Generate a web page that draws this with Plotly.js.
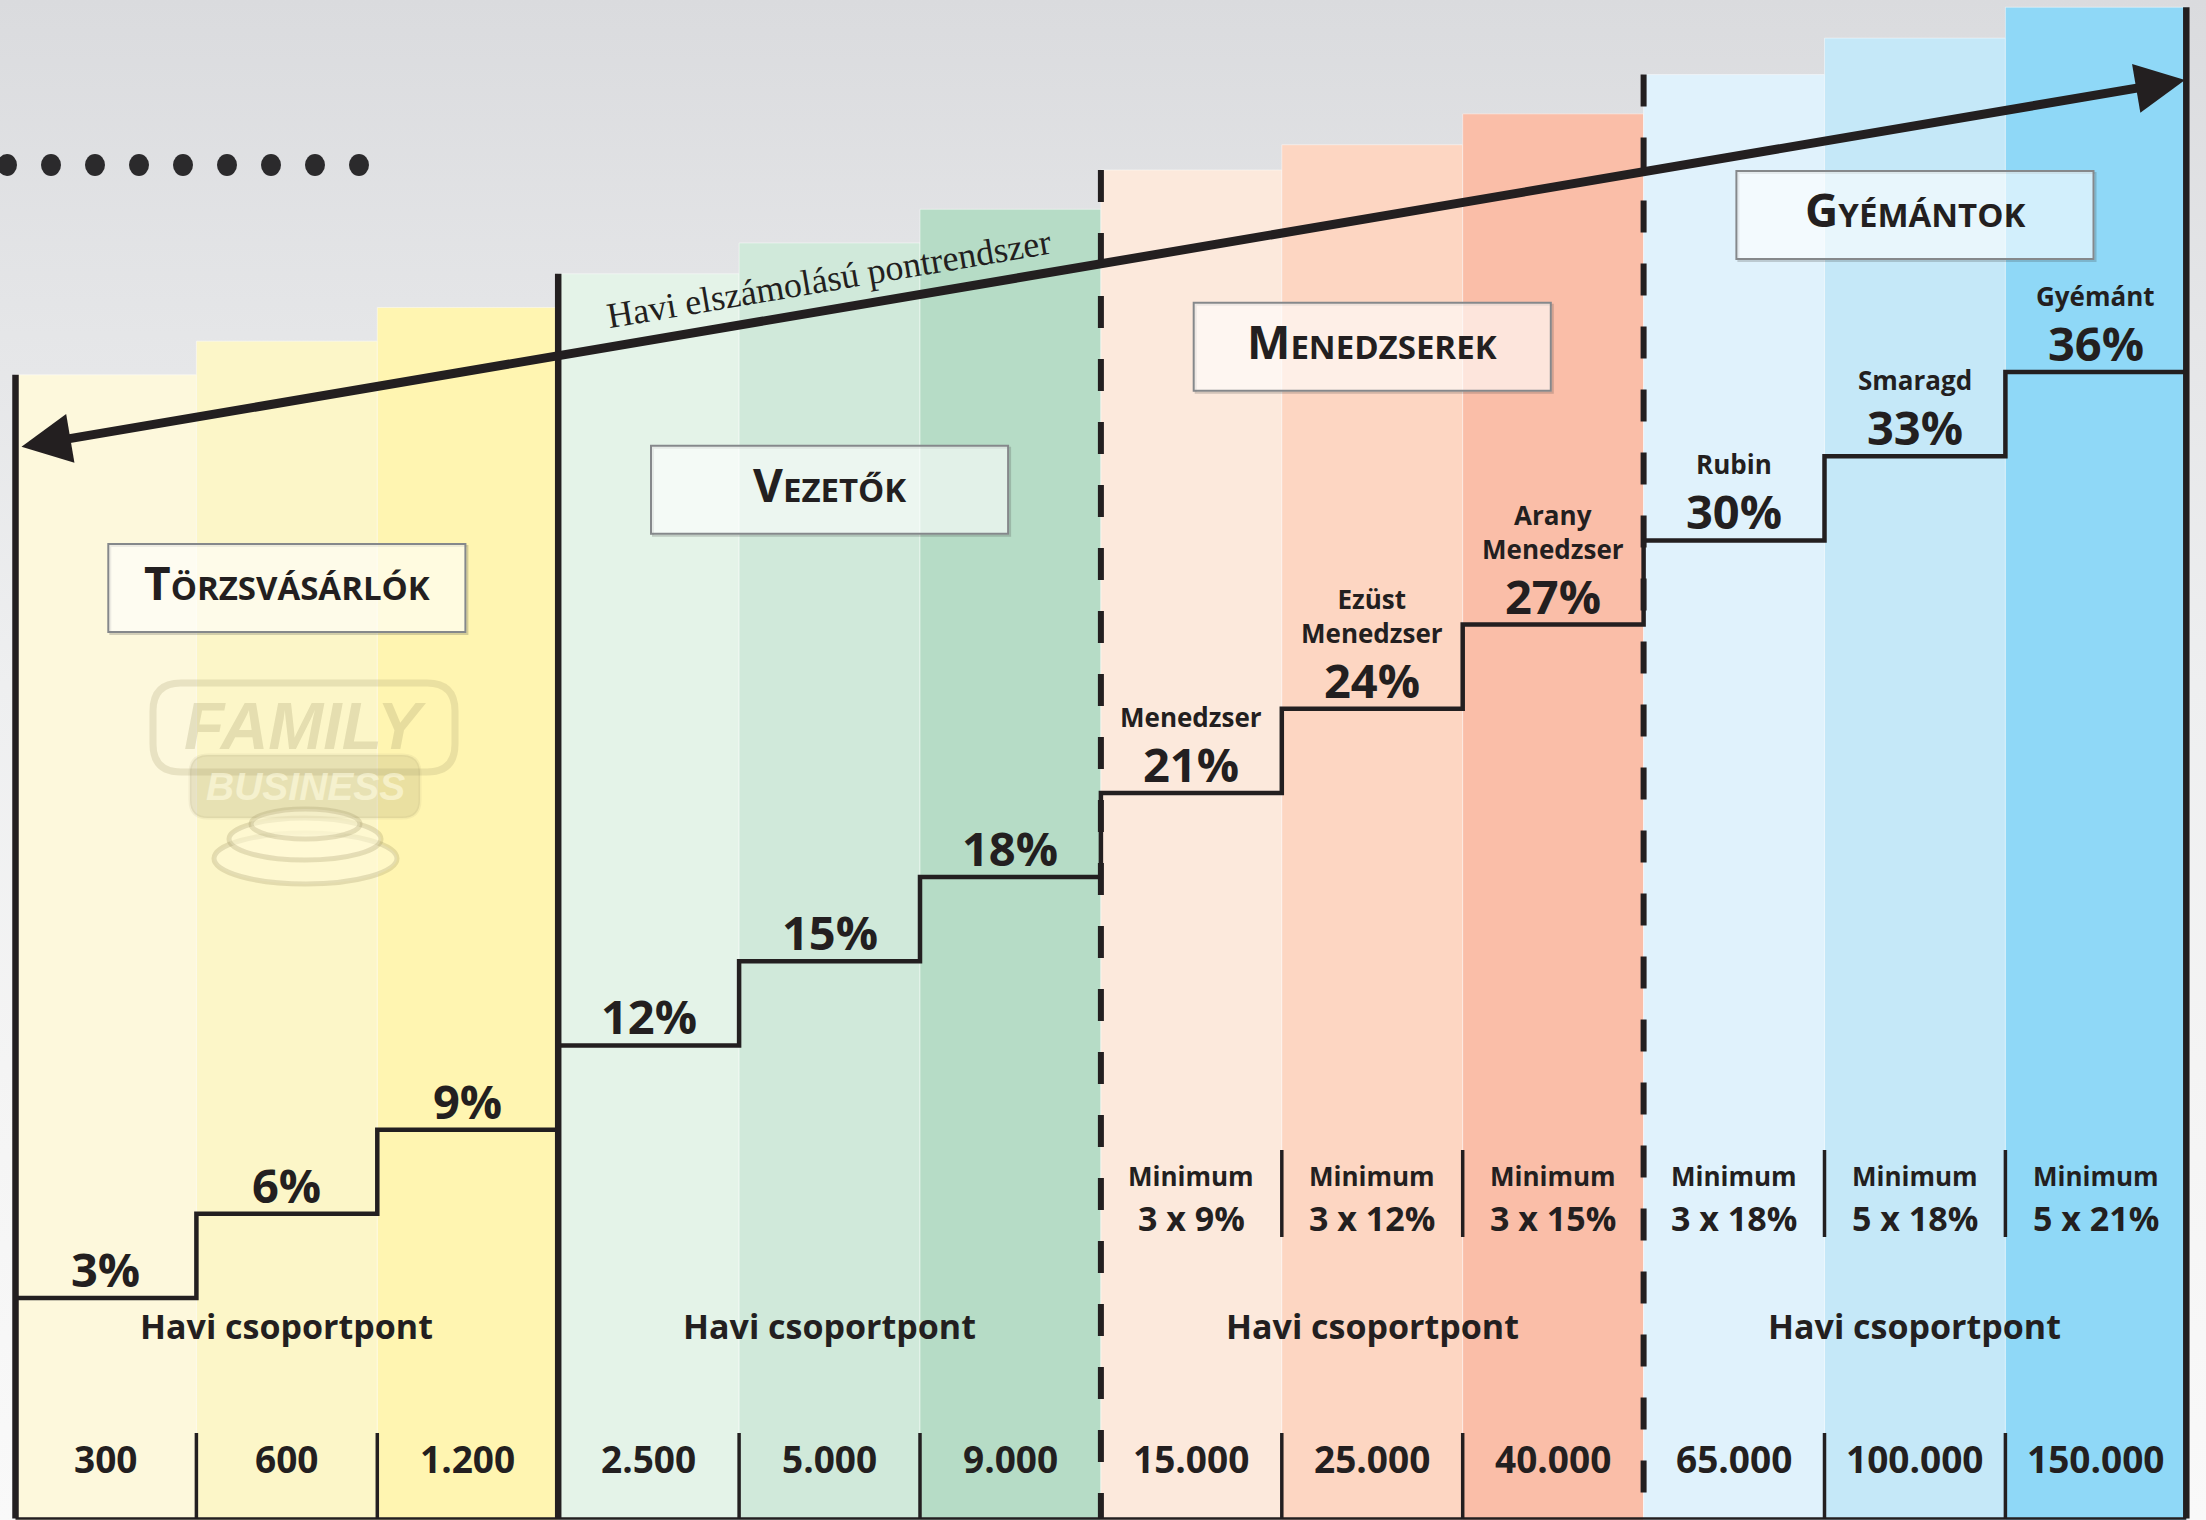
<!DOCTYPE html>
<html><head><meta charset="utf-8">
<script src="https://cdn.plot.ly/plotly-3.0.1.min.js"></script>
<style>
html,body{margin:0;padding:0;width:2206px;height:1520px;overflow:hidden;
background:linear-gradient(to bottom,#dadbde 0%,#e5e6e8 22%,#eeeff0 45%,#f4f4f4 70%,#f9f9f9 100%);}
#chart{width:2206px;height:1520px;}
</style></head><body><div id="chart"></div>
<script>
// ---------------- data ----------------
const levelPercent = [3, 6, 9, 12, 15, 18, 21, 24, 27, 30, 33, 36];
const levelNames = ['', '', '', '', '', '', 'Menedzser', 'Ezüst<br>Menedzser', 'Arany<br>Menedzser', 'Rubin', 'Smaragd', 'Gyémánt'];
const groupPoints = [300, 600, 1200, 2500, 5000, 9000, 15000, 25000, 40000, 65000, 100000, 150000];
const minimumCount = [null, null, null, null, null, null, 3, 3, 3, 3, 5, 5];
const minimumPercent = [null, null, null, null, null, null, 9, 12, 15, 18, 18, 21];
const columnTop = [35.9, 37.1, 38.3, 39.5, 40.6, 41.8, 43.2, 44.1, 45.2, 46.6, 47.9, 49.0];
const groupNames = ['Törzsvásárlók', 'Vezetők', 'Menedzserek', 'Gyémántok'];
const groupTitleLevel = [28.3, 31.8, 36.9, 41.6];
const groupSubtitle = 'Havi csoportpont';
const arrowLabel = 'Havi elszámolású pontrendszer';
const columnColors = ['#fdf8dc', '#fcf6c8', '#fff5b1', '#e4f3e8', '#d0e9da', '#b6dcc6',
                      '#fce9dc', '#fdd6c2', '#fabea8', '#e0f2fc', '#c5e8f8', '#8fd8f7'];

// ---------------- geometry helpers ----------------
const W = 2206, H = 1520;
const Y_MIN = -4.912, Y_MAX = 49.258;
const X_MIN = -0.0857, X_MAX = 12.1089;
const INK = '#231f20';
const FONT = 'Open Sans, Noto Sans, DejaVu Sans, sans-serif';
const PX = v => v / W;                 // pixel -> paper x
const PY = v => 1 - v / H;             // pixel -> paper y
const YD = v => Y_MAX - (v / H) * (Y_MAX - Y_MIN);   // pixel row -> y data
const XD = v => X_MIN + (v / W) * (X_MAX - X_MIN);   // pixel col -> x data
const fmt = n => String(n).replace(/\B(?=(\d{3})+(?!\d))/g, '.');
const nCols = levelPercent.length;
const colIdx = levelPercent.map((_, i) => i);

function rr(x0, y0, x1, y1, r) {
  return `M${PX(x0 + r)},${PY(y0)} L${PX(x1 - r)},${PY(y0)} Q${PX(x1)},${PY(y0)} ${PX(x1)},${PY(y0 + r)} ` +
         `L${PX(x1)},${PY(y1 - r)} Q${PX(x1)},${PY(y1)} ${PX(x1 - r)},${PY(y1)} L${PX(x0 + r)},${PY(y1)} ` +
         `Q${PX(x0)},${PY(y1)} ${PX(x0)},${PY(y1 - r)} L${PX(x0)},${PY(y0 + r)} Q${PX(x0)},${PY(y0)} ${PX(x0 + r)},${PY(y0)} Z`;
}

// ---------------- traces ----------------
const bars = {
  type: 'bar',
  x: colIdx.map(i => i + 0.5),
  y: columnTop.map(t => t - Y_MIN),
  base: Y_MIN,
  width: 1,
  marker: { color: columnColors, line: { width: 1, color: 'rgba(255,255,255,0.45)' } },
  hoverinfo: 'skip'
};
const steps = {
  type: 'scatter', mode: 'lines',
  x: colIdx.concat([nCols]),
  y: levelPercent.concat([levelPercent[nCols - 1]]),
  line: { shape: 'hv', width: 4.5, color: INK },
  hoverinfo: 'skip'
};

// ---------------- shapes ----------------
const shapes = [];
const bottomY = YD(1518.5);
// logo watermark
const logoC = 'rgba(160,150,105,0.22)';
shapes.push({ type: 'path', xref: 'paper', yref: 'paper', path: rr(153, 683, 455, 772, 28), line: { color: logoC, width: 7 }, fillcolor: 'rgba(0,0,0,0)', layer: 'above' });
shapes.push({ type: 'path', xref: 'paper', yref: 'paper', path: rr(190, 755, 420, 818, 18), line: { color: 'rgba(160,150,105,0.10)', width: 3 }, fillcolor: logoC, layer: 'above' });
[[214, 833, 397, 884], [229, 818, 381, 860], [251, 809, 360, 839]].forEach(e => {
  shapes.push({ type: 'circle', xref: 'paper', yref: 'paper', x0: PX(e[0]), x1: PX(e[2]), y0: PY(e[1]), y1: PY(e[3]),
    fillcolor: 'rgba(255,250,215,0.55)', line: { color: 'rgba(160,150,105,0.28)', width: 5 }, layer: 'above' });
});
// dotted row top-left
for (let k = 0; k < 9; k++) {
  const cx = 7 + 44 * k;
  shapes.push({ type: 'circle', xref: 'paper', yref: 'paper', x0: PX(cx - 10), x1: PX(cx + 10), y0: PY(154), y1: PY(176),
    fillcolor: '#2b2a2c', line: { width: 0 } });
}
// group boundary lines
for (let g = 0; g <= 4; g++) {
  const xb = g * 3;
  const top = columnTop[g === 4 ? nCols - 1 : xb];
  const dashed = (g === 2 || g === 3);
  shapes.push({ type: 'line', x0: xb, x1: xb, y0: top, y1: bottomY, layer: 'above',
    line: { color: INK, width: dashed ? 6 : 6.5, dash: dashed ? '32px,31px' : 'solid' } });
}
// bottom border
shapes.push({ type: 'line', x0: 0, x1: nCols, y0: bottomY, y1: bottomY, line: { color: INK, width: 2.5 }, layer: 'above' });
// separators in number row and minimum row
for (let i = 1; i < nCols; i++) {
  if (i % 3 === 0) continue;
  shapes.push({ type: 'line', x0: i, x1: i, y0: YD(1433), y1: bottomY, line: { color: INK, width: 3.5 }, layer: 'above' });
  if (minimumCount[i] !== null && minimumCount[i - 1] !== null) {
    shapes.push({ type: 'line', x0: i, x1: i, y0: YD(1150), y1: YD(1237), line: { color: INK, width: 3.5 }, layer: 'above' });
  }
}
// group title boxes
const boxHalfW = 0.987, boxHalfH = 44 * (Y_MAX - Y_MIN) / H;
const dx2 = 2 * (X_MAX - X_MIN) / W, dy2 = 2 * (Y_MAX - Y_MIN) / H;
groupNames.forEach((n, g) => {
  const c = g * 3 + 1.5, cy = groupTitleLevel[g];
  shapes.push({ type: 'rect', x0: c - boxHalfW + dx2, x1: c + boxHalfW + dx2, y0: cy - boxHalfH - dy2, y1: cy + boxHalfH - dy2,
    fillcolor: 'rgba(0,0,0,0)', line: { color: 'rgba(60,60,60,0.22)', width: 2 }, layer: 'above' });
  shapes.push({ type: 'rect', x0: c - boxHalfW, x1: c + boxHalfW, y0: cy - boxHalfH, y1: cy + boxHalfH,
    fillcolor: 'rgba(255,255,255,0.6)', line: { color: '#85888b', width: 2 }, layer: 'above' });
});

// ---------------- annotations ----------------
const ann = [];
const txt = (o) => Object.assign({ showarrow: false, xref: 'x', yref: 'y', xanchor: 'center' }, o);
colIdx.forEach(i => {
  ann.push(txt({ x: i + 0.5, y: levelPercent[i], yanchor: 'bottom', yshift: -4, borderpad: 0, text: levelPercent[i] + '%',
    font: { family: FONT, size: 47, color: INK, weight: 700 } }));
  if (levelNames[i]) {
    ann.push(txt({ x: i + 0.5, y: levelPercent[i], yanchor: 'bottom', yshift: 57, borderpad: 0, text: levelNames[i],
      font: { family: FONT, size: 26, color: INK, weight: 700 } }));
  }
  if (minimumCount[i] !== null) {
    ann.push(txt({ x: i + 0.5, y: YD(1176), yanchor: 'middle', text: 'Minimum',
      font: { family: FONT, size: 26, color: INK, weight: 700 } }));
    ann.push(txt({ x: i + 0.5, y: YD(1218), yanchor: 'middle', text: minimumCount[i] + ' x ' + minimumPercent[i] + '%',
      font: { family: FONT, size: 34, color: INK, weight: 700 } }));
  }
  ann.push(txt({ x: i + 0.5, y: YD(1458), yanchor: 'middle', text: fmt(groupPoints[i]),
    font: { family: FONT, size: 37, color: INK, weight: 700 } }));
});
groupNames.forEach((n, g) => {
  const up = n.toUpperCase();
  ann.push(txt({ x: g * 3 + 1.5, y: YD(1326), yanchor: 'middle', text: groupSubtitle,
    font: { family: FONT, size: 34, color: INK, weight: 700 } }));
  ann.push(txt({ x: g * 3 + 1.5, y: groupTitleLevel[g], yanchor: 'middle', yshift: 6,
    text: up[0] + '<span style="font-size:33px">' + up.slice(1) + '</span>',
    font: { family: FONT, size: 46, color: INK, weight: 700 } }));
});
// long arrow
ann.push({ xref: 'x', yref: 'y', axref: 'x', ayref: 'y', x: XD(2185), y: YD(80), ax: XD(20), ay: YD(447),
  text: '', showarrow: true, arrowside: 'end+start', arrowhead: 2, startarrowhead: 2,
  arrowsize: 1.1, startarrowsize: 1.1, arrowwidth: 9, arrowcolor: INK, standoff: 0, startstandoff: 0 });
ann.push({ xref: 'paper', yref: 'paper', x: PX(829), y: PY(279), xanchor: 'center', yanchor: 'middle', showarrow: false, textangle: -9.6,
  text: arrowLabel, font: { family: 'Liberation Serif, Times New Roman, serif', size: 36, color: INK } });
// logo texts
ann.push({ xref: 'paper', yref: 'paper', x: PX(305), y: PY(726), xanchor: 'center', yanchor: 'middle', showarrow: false,
  text: '<i>FAMILY</i>', font: { family: 'Liberation Sans, Arial, sans-serif', size: 66, color: 'rgba(160,150,105,0.25)', weight: 700 } });
ann.push({ xref: 'paper', yref: 'paper', x: PX(305), y: PY(786), xanchor: 'center', yanchor: 'middle', showarrow: false,
  text: '<i>BUSINESS</i>', font: { family: 'Liberation Sans, Arial, sans-serif', size: 39, color: 'rgba(255,252,225,0.6)', weight: 700 } });

const layout = {
  width: W, height: H,
  margin: { l: 0, r: 0, t: 0, b: 0, pad: 0 },
  paper_bgcolor: 'rgba(0,0,0,0)', plot_bgcolor: 'rgba(0,0,0,0)',
  showlegend: false, bargap: 0,
  xaxis: { range: [X_MIN, X_MAX], visible: false, fixedrange: true },
  yaxis: { range: [Y_MIN, Y_MAX], visible: false, fixedrange: true },
  shapes: shapes, annotations: ann
};
Plotly.newPlot('chart', [bars, steps], layout, { staticPlot: true, displayModeBar: false });
</script></body></html>
